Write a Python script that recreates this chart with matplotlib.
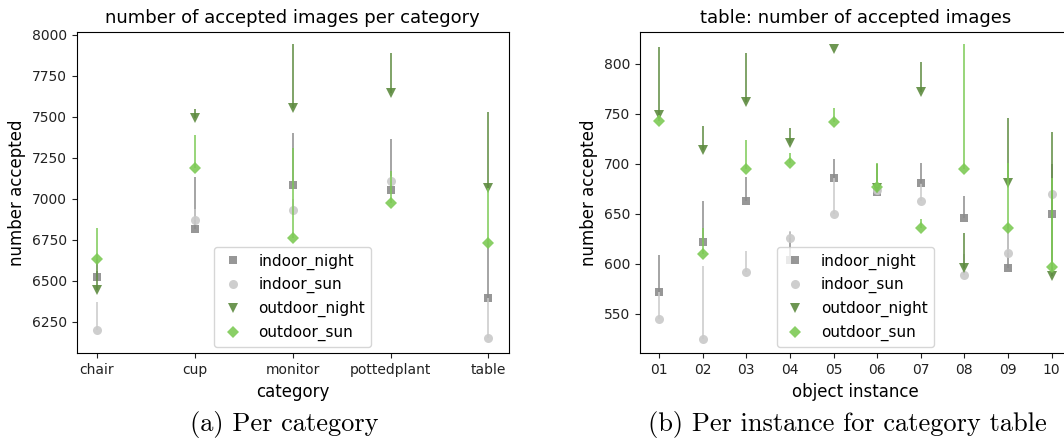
import matplotlib
matplotlib.use("Agg")
import matplotlib.pyplot as plt

# ---- per-category counts (marker value and top of the vertical range) ----
categories = ["chair", "cup", "monitor", "pottedplant", "table"]
cat_indoor_night = [6521, 6815, 7084, 7054, 6393]
cat_indoor_night_top = [6560, 7136, 7400, 7368, 6728]
cat_indoor_sun = [6199, 6873, 6932, 7106, 6148]
cat_indoor_sun_top = [6372, 6940, 7000, 7140, 6393]
cat_outdoor_night = [6443, 7491, 7556, 7646, 7068]
cat_outdoor_night_top = [6631, 7549, 7943, 7889, 7532]
cat_outdoor_sun = [6631, 7188, 6759, 6976, 6728]
cat_outdoor_sun_top = [6820, 7392, 7308, 7172, 7068]

# ---- per-instance counts for category "table" ----
instances = ["01", "02", "03", "04", "05", "06", "07", "08", "09", "10"]
inst_indoor_night = [571.9, 621.9, 663.0, 603.6, 685.5, 672.0, 680.4, 645.4, 595.3, 649.4]
inst_indoor_night_top = [609.3, 663.0, 686.5, 632.0, 704.8, 680.0, 700.5, 667.7, 640.0, 700.0]
inst_indoor_sun = [545.2, 525.2, 591.3, 626.0, 649.4, 674.0, 663.0, 588.6, 611.3, 669.4]
inst_indoor_sun_top = [572.0, 597.9, 612.6, 632.7, 685.5, 676.0, 680.0, 610.0, 635.0, 685.0]
inst_outdoor_night = [748.9, 713.8, 761.6, 720.5, 815.0, 675.5, 772.2, 595.3, 680.4, 587.9]
inst_outdoor_night_top = [817.3, 738.2, 810.7, 735.6, 815.0, 700.0, 802.3, 630.4, 746.0, 732.2]
inst_outdoor_sun = [743.2, 610.3, 694.8, 700.5, 741.6, 676.5, 636.0, 694.8, 635.4, 596.9]
inst_outdoor_sun_top = [749.0, 636.0, 723.5, 710.5, 755.6, 700.5, 644.7, 819.7, 700.5, 685.5]

series_names = ["indoor_night", "indoor_sun", "outdoor_night", "outdoor_sun"]
series_markers = ["s", "o", "v", "D"]
series_colors = ["#8c8c8c", "#c9c9c9", "#5d8b3f", "#7dca55"]
series_ms = [6, 6.5, 6.5, 6]

fig = plt.figure(figsize=(10.64, 4.46), dpi=100)
ax1 = fig.add_axes([0.0721, 0.2078, 0.4063, 0.7211])
ax2 = fig.add_axes([0.6015, 0.2078, 0.4048, 0.7211])


def draw(ax, labels, values, tops):
    x = list(range(len(labels)))
    for name, mk, col, ms, val, top in zip(series_names, series_markers,
                                            series_colors, series_ms, values, tops):
        lo = [min(a, b) for a, b in zip(val, top)]
        hi = [max(a, b) for a, b in zip(val, top)]
        ax.vlines(x, lo, hi, colors=col, lw=1.3, alpha=0.85)
        ax.plot(x, val, ls="none", marker=mk, color=col, ms=ms, alpha=0.9,
                label=name, markeredgewidth=0)
    ax.set_xticks(x)
    ax.set_xticklabels(labels)
    ax.tick_params(labelsize=10, colors="#222222")
    ax.legend(loc="lower center", fontsize=11, framealpha=0.8,
              borderaxespad=0.4, handlelength=1.6, handletextpad=0.9)
    ax.set_ylabel("number accepted", fontsize=12)


draw(ax1, categories,
     [cat_indoor_night, cat_indoor_sun, cat_outdoor_night, cat_outdoor_sun],
     [cat_indoor_night_top, cat_indoor_sun_top, cat_outdoor_night_top, cat_outdoor_sun_top])
ax1.set_xlim(-0.204, 4.21)
ax1.set_ylim(6057, 8020)
ax1.set_yticks([6250, 6500, 6750, 7000, 7250, 7500, 7750, 8000])
ax1.set_xlabel("category", fontsize=12)
ax1.set_title("number of accepted images per category", fontsize=13)

draw(ax2, instances,
     [inst_indoor_night, inst_indoor_sun, inst_outdoor_night, inst_outdoor_sun],
     [inst_indoor_night_top, inst_indoor_sun_top, inst_outdoor_night_top, inst_outdoor_sun_top])
ax2.set_xlim(-0.44, 9.44)
ax2.set_ylim(510.4, 832.3)
ax2.set_yticks([550, 600, 650, 700, 750, 800])
ax2.set_xlabel("object instance", fontsize=12)
ax2.set_title("table: number of accepted images", fontsize=13)

fig.text(284 / 1064, 1 - 425 / 446, "(a) Per category", family="cmr10",
         fontsize=19, ha="center", va="center")
fig.text(847 / 1064, 1 - 425 / 446, "(b) Per instance for category table",
         family="cmr10", fontsize=19, ha="center", va="center")

fig.savefig("out.png", dpi=100)
